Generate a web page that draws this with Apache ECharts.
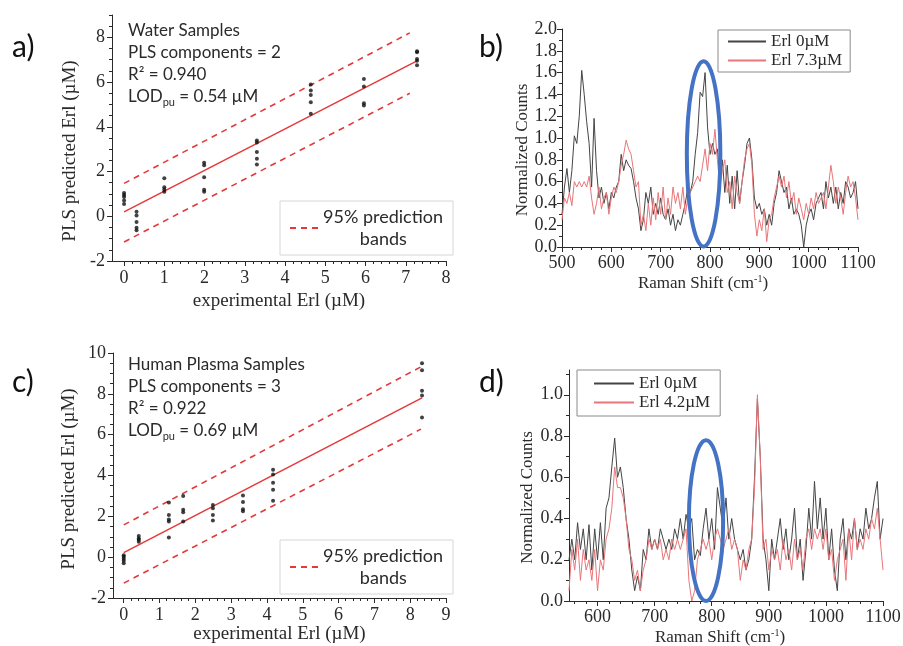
<!DOCTYPE html>
<html><head><meta charset="utf-8">
<script src="https://cdn.jsdelivr.net/npm/echarts@6/dist/echarts.min.js"></script>
<style>html,body{margin:0;padding:0;background:#fff}#c{width:903px;height:646px}</style>
</head><body><div id="c"></div>
<script>
// ---------------- Panel a: water samples ----------------
const waterExperimental = [0,0,0,0,0, 0.31,0.31,0.31,0.31,0.31, 1,1,1,1, 1.99,1.99,1.99,1.99,1.99, 3.3,3.3,3.3,3.3,3.3, 4.64,4.64,4.64,4.64,4.64, 5.96,5.96,5.96,5.96, 7.28,7.28,7.28,7.28,7.28];
const waterPredicted    = [1.04,0.95,0.86,0.7,0.55, 0.2,0.04,-0.26,-0.51,-0.63, 1.7,1.3,1.2,1.1, 2.39,2.28,1.75,1.19,1.1, 3.39,3.3,2.87,2.57,2.32, 5.89,5.62,5.42,5.1,4.58, 6.14,5.8,5.05,4.95, 7.38,7.33,7.03,6.95,6.75];
const waterFitX = [0, 7.28];
const waterFitY = [0.2, 6.95];
const waterBandX = [0, 7.1];
const waterUpperY = [1.47, 8.2];
const waterLowerY = [-1.15, 5.5];
const waterNotes = ['Water Samples', 'PLS components = 2', 'R² = 0.940', 'LOD|pu| = 0.54 µM'];
const aXTicks = [0,1,2,3,4,5,6,7,8];
const aYTicks = [-2,0,2,4,6,8];

// ---------------- Panel c: human plasma samples ----------------
const plasmaExperimental = [0,0,0,0,0, 0.42,0.42,0.42,0.42, 1.26,1.26,1.26,1.26,1.26, 1.66,1.66,1.66,1.66, 2.49,2.49,2.49,2.49, 3.33,3.33,3.33,3.33, 4.17,4.17,4.17,4.17,4.17, 8.33,8.33,8.33,8.33,8.33];
const plasmaPredicted    = [0.1,0.02,-0.08,-0.18,-0.3, 1.04,0.92,0.85,0.75, 2.68,2.07,1.85,1.75,0.96, 3.0,2.32,2.2,1.75, 2.56,2.4,2.07,1.8, 3.02,2.7,2.35,2.25, 4.28,4.05,3.65,3.3,2.76, 9.5,9.15,8.15,7.92,6.84];
const plasmaFitX = [0, 8.33];
const plasmaFitY = [0.22, 7.8];
const plasmaBandX = [0, 8.3];
const plasmaUpperY = [1.58, 9.32];
const plasmaLowerY = [-1.27, 6.27];
const plasmaNotes = ['Human Plasma Samples', 'PLS components = 3', 'R² = 0.922', 'LOD|pu| = 0.69 µM'];
const cXTicks = [0,1,2,3,4,5,6,7,8,9];
const cYTicks = [-2,0,2,4,6,8,10];

// ---------------- Panel b: Raman spectra (water) ----------------
const bShift = [500,505,510,515,520,525,530,535,540,545,550,555,560,565,570,575,580,585,590,595,
 600,605,610,615,620,625,630,635,640,645,650,655,660,665,670,675,680,685,690,695,
 700,705,710,715,720,725,730,735,740,745,750,755,760,765,770,775,780,785,790,795,
 800,805,810,815,820,825,830,835,840,845,850,855,860,865,870,875,880,885,890,895,
 900,905,910,915,920,925,930,935,940,945,950,955,960,965,970,975,980,985,990,995,
 1000,1005,1010,1015,1020,1025,1030,1035,1040,1045,1050,1055,1060,1065,1070,1075,1080,1085,1090,1095,
 1100];
const bErl0 = [0.30,0.55,0.72,0.50,0.70,1.02,0.95,1.20,1.62,1.40,1.15,0.95,0.55,1.18,0.70,0.45,0.55,0.40,0.50,0.35,
 0.50,0.45,0.55,0.60,0.85,0.70,0.80,0.75,0.72,0.60,0.45,0.35,0.15,0.25,0.50,0.40,0.55,0.30,0.40,0.30,
 0.45,0.30,0.25,0.35,0.20,0.30,0.15,0.25,0.20,0.30,0.40,0.55,0.50,0.60,0.85,1.05,1.42,1.38,1.60,1.10,
 0.85,0.95,0.85,0.90,0.60,0.80,0.50,0.75,0.40,0.65,0.35,0.70,0.40,0.60,0.75,0.95,1.00,0.80,0.45,0.35,
 0.40,0.30,0.35,0.20,0.30,0.20,0.40,0.50,0.70,0.60,0.50,0.55,0.35,0.45,0.30,0.35,0.30,0.20,0.00,0.20,
 0.30,0.35,0.25,0.40,0.45,0.50,0.35,0.60,0.45,0.55,0.40,0.55,0.35,0.50,0.40,0.60,0.55,0.45,0.50,0.60,
 0.35];
const bErl73 = [0.25,0.45,0.40,0.50,0.38,0.60,0.55,0.60,0.55,0.60,0.55,0.65,0.45,0.30,0.40,0.55,0.35,0.45,0.50,0.30,
 0.45,0.55,0.50,0.60,0.75,0.85,0.98,0.90,0.85,0.70,0.55,0.60,0.20,0.30,0.15,0.40,0.20,0.45,0.25,0.50,
 0.30,0.55,0.25,0.45,0.30,0.55,0.40,0.50,0.35,0.55,0.30,0.45,0.50,0.55,0.60,0.65,0.60,0.75,0.90,0.70,
 0.95,0.85,1.08,0.80,0.55,0.70,0.80,0.50,0.60,0.35,0.65,0.50,0.40,0.60,0.80,0.90,0.95,0.75,0.30,0.10,
 0.25,0.15,0.35,0.05,0.25,0.30,0.45,0.55,0.65,0.55,0.65,0.45,0.60,0.40,0.50,0.30,0.45,0.35,0.25,0.40,
 0.30,0.45,0.35,0.50,0.40,0.45,0.50,0.35,0.55,0.75,0.60,0.40,0.55,0.45,0.30,0.50,0.65,0.55,0.60,0.45,
 0.25];
const bHighlight = [787, 0.855, 34, 0.85]; // centre x, centre y, half-width, half-height
const bXTicks = [500,600,700,800,900,1000,1100];
const bYTicks = [0,0.2,0.4,0.6,0.8,1.0,1.2,1.4,1.6,1.8,2.0];

// ---------------- Panel d: Raman spectra (plasma) ----------------
const dShift = [550,555,560,565,570,575,580,585,590,595,
 600,605,610,615,620,625,630,635,640,645,650,655,660,665,670,675,680,685,690,695,
 700,705,710,715,720,725,730,735,740,745,750,755,760,765,770,775,780,785,790,795,
 800,805,810,815,820,825,830,835,840,845,850,855,860,865,870,875,880,885,890,895,
 900,905,910,915,920,925,930,935,940,945,950,955,960,965,970,975,980,985,990,995,
 1000,1005,1010,1015,1020,1025,1030,1035,1040,1045,1050,1055,1060,1065,1070,1075,1080,1085,1090,1095,
 1100];
const dErl0 = [0.20,0.30,0.20,0.38,0.25,0.35,0.20,0.37,0.15,0.35,
 0.20,0.38,0.20,0.45,0.50,0.65,0.79,0.60,0.65,0.55,0.40,0.30,0.15,0.05,0.12,0.05,0.25,0.20,0.35,0.25,
 0.30,0.25,0.35,0.30,0.25,0.30,0.25,0.35,0.30,0.40,0.30,0.42,0.35,0.40,0.20,0.25,0.22,0.35,0.45,0.30,
 0.40,0.25,0.55,0.45,0.35,0.50,0.30,0.40,0.30,0.25,0.20,0.25,0.15,0.20,0.30,0.60,0.98,0.70,0.30,0.20,
 0.05,0.30,0.20,0.30,0.40,0.25,0.35,0.20,0.30,0.45,0.20,0.30,0.10,0.25,0.45,0.30,0.58,0.35,0.50,0.30,
 0.45,0.20,0.35,0.15,0.05,0.30,0.40,0.20,0.35,0.30,0.40,0.25,0.35,0.30,0.45,0.35,0.40,0.50,0.58,0.30,
 0.40];
const dErl42 = [0.05,0.25,0.15,0.30,0.10,0.25,0.15,0.20,0.10,0.25,
 0.05,0.20,0.15,0.30,0.35,0.45,0.65,0.55,0.55,0.50,0.40,0.25,0.20,0.10,0.15,0.05,0.15,0.20,0.30,0.25,
 0.30,0.25,0.30,0.20,0.25,0.20,0.30,0.25,0.30,0.25,0.30,0.35,0.10,0.00,0.05,0.20,0.25,0.30,0.25,0.30,
 0.20,0.30,0.35,0.30,0.25,0.30,0.35,0.25,0.30,0.25,0.10,0.20,0.15,0.25,0.30,0.55,1.00,0.70,0.25,0.30,
 0.15,0.25,0.20,0.25,0.15,0.30,0.20,0.25,0.15,0.30,0.20,0.25,0.15,0.30,0.35,0.25,0.35,0.30,0.35,0.25,
 0.35,0.20,0.25,0.10,0.20,0.25,0.30,0.10,0.35,0.20,0.40,0.25,0.30,0.25,0.35,0.30,0.40,0.35,0.45,0.30,
 0.15];
const dHighlight = [790, 0.39, 30, 0.39];
const dXTicks = [600,700,800,900,1000,1100];
const dYTicks = [0,0.2,0.4,0.6,0.8,1.0];

// ---------------- styling helpers ----------------
const SERIF = '"Liberation Serif", "Times New Roman", serif';
const SANS = 'Lato, "Open Sans", sans-serif';
const INK = '#2a2a2a';
const RED = '#e4393b';
const BLUE = '#4472c4';

function minorVals(min, max, step, major) {
  const out = [];
  const n = Math.round((max - min) / step);
  for (let i = 0; i <= n; i++) {
    const v = +(min + i * step).toFixed(6);
    const r = v / major;
    if (Math.abs(r - Math.round(r)) < 1e-6) continue;
    out.push(v);
  }
  return out;
}
const zip = (xs, ys) => xs.map((x, i) => [x, ys[i]]);

function mainAxis(grid, min, max, ticks, fmt, labelSize, labelMargin, name, nameSize, nameGap, namePad, rich) {
  const ax = {
    type: 'value', gridIndex: grid, min: min, max: max,
    splitLine: { show: false },
    axisLine: { show: true, onZero: false, lineStyle: { color: INK, width: 1 } },
    axisTick: { show: true, inside: false, length: 5, customValues: ticks, lineStyle: { color: INK, width: 1 } },
    axisLabel: { show: true, customValues: ticks, formatter: fmt, fontFamily: SERIF, fontSize: labelSize, color: INK, margin: labelMargin },
    name: name, nameLocation: 'middle', nameGap: nameGap,
    nameTextStyle: { fontFamily: SERIF, fontSize: nameSize, color: INK, padding: namePad }
  };
  if (rich) ax.nameTextStyle.rich = rich;
  return ax;
}
function minorAxis(grid, min, max, vals) {
  return {
    type: 'value', gridIndex: grid, min: min, max: max,
    splitLine: { show: false }, axisLine: { show: false, onZero: false },
    axisTick: { show: true, inside: false, length: 3, customValues: vals, lineStyle: { color: INK, width: 1 } },
    axisLabel: { show: false }
  };
}
const intFmt = v => String(v);
const oneDec = v => Number(v).toFixed(1);
const ramanRich = {
  t: { fontFamily: SERIF, fontSize: 17, color: INK, lineHeight: 20 },
  s: { fontFamily: SERIF, fontSize: 10, color: INK, lineHeight: 10, verticalAlign: 'top' }
};
const ramanName = '{t|Raman Shift (cm}{s|-1}{t|)}';

const grids = [
  { left: 112, top: 15, width: 334, height: 246 },
  { left: 562, top: 29, width: 296, height: 218 },
  { left: 113, top: 353, width: 333, height: 245 },
  { left: 569, top: 370, width: 314, height: 231 }
];
const allGrids = grids.concat(grids).map(g => Object.assign({ containLabel: false, outerBoundsMode: 'none' }, g));

const xAxes = [
  mainAxis(0, -0.3, 8, aXTicks, intFmt, 18, 8, 'experimental Erl (µM)', 19, 31, [0,0,0,0]),
  mainAxis(1, 500, 1100, bXTicks, intFmt, 18, 7, ramanName, 17, 27, [0,14,0,0], ramanRich),
  mainAxis(2, -0.3, 9, cXTicks, intFmt, 18, 8, 'experimental Erl (µM)', 19, 27, [0,0,0,0]),
  mainAxis(3, 550, 1100, dXTicks, intFmt, 18, 7, ramanName, 17, 27, [0,12,0,0], ramanRich),
  minorAxis(4, -0.3, 8, minorVals(0, 8, 0.2, 1)),
  minorAxis(5, 500, 1100, minorVals(500, 1100, 20, 100)),
  minorAxis(6, -0.3, 9, minorVals(0, 9, 0.2, 1)),
  minorAxis(7, 550, 1100, minorVals(560, 1100, 20, 100))
];
const yAxes = [
  mainAxis(0, -2, 9, aYTicks, intFmt, 18, 7, 'PLS predicted Erl (µM)', 19, 32, [0,26,0,0]),
  mainAxis(1, 0, 2, bYTicks, oneDec, 18, 5, 'Normalized Counts', 17, 30, [0,24,0,0]),
  mainAxis(2, -2, 10, cYTicks, intFmt, 18, 7, 'PLS predicted Erl (µM)', 19, 34, [0,7,0,0]),
  mainAxis(3, 0, 1.12, dYTicks, oneDec, 18, 6, 'Normalized Counts', 17, 33, [0,24,0,0]),
  minorAxis(4, -2, 9, minorVals(-2, 9, 0.5, 2)),
  minorAxis(5, 0, 2, minorVals(0, 2, 0.1, 0.2)),
  minorAxis(6, -2, 10, minorVals(-2, 10, 0.5, 2)),
  minorAxis(7, 0, 1.12, minorVals(0, 1.1, 0.1, 0.2))
];

function ellipseSeries(idx, item) {
  return {
    type: 'custom', name: 'highlight', xAxisIndex: idx, yAxisIndex: idx, clip: false, silent: true, z: 5,
    data: [item],
    renderItem: function (params, api) {
      const c = api.coord([api.value(0), api.value(1)]);
      const s = api.size([api.value(2), api.value(3)]);
      return { type: 'ellipse', shape: { cx: c[0], cy: c[1], rx: s[0], ry: s[1] },
               style: { fill: 'none', stroke: BLUE, lineWidth: 4 } };
    }
  };
}
const lineBase = { type: 'line', symbol: 'none', showSymbol: false, animation: false, silent: true };
const BAND = '95% prediction bands';

const series = [
  // a
  { type: 'scatter', name: 'water', xAxisIndex: 0, yAxisIndex: 0, symbol: 'circle', symbolSize: 4,
    itemStyle: { color: '#111' }, data: zip(waterExperimental, waterPredicted), z: 4 },
  Object.assign({}, lineBase, { name: 'fit a', xAxisIndex: 0, yAxisIndex: 0, data: zip(waterFitX, waterFitY), lineStyle: { color: RED, width: 1.5 } }),
  Object.assign({}, lineBase, { name: BAND, xAxisIndex: 0, yAxisIndex: 0, data: zip(waterBandX, waterUpperY), lineStyle: { color: RED, width: 1.6, type: [6, 5] }, itemStyle: { color: RED } }),
  Object.assign({}, lineBase, { name: BAND, xAxisIndex: 0, yAxisIndex: 0, data: zip(waterBandX, waterLowerY), lineStyle: { color: RED, width: 1.6, type: [6, 5] }, itemStyle: { color: RED } }),
  // c
  { type: 'scatter', name: 'plasma', xAxisIndex: 2, yAxisIndex: 2, symbol: 'circle', symbolSize: 4,
    itemStyle: { color: '#111' }, data: zip(plasmaExperimental, plasmaPredicted), z: 4 },
  Object.assign({}, lineBase, { name: 'fit c', xAxisIndex: 2, yAxisIndex: 2, data: zip(plasmaFitX, plasmaFitY), lineStyle: { color: RED, width: 1.5 } }),
  Object.assign({}, lineBase, { name: BAND, xAxisIndex: 2, yAxisIndex: 2, data: zip(plasmaBandX, plasmaUpperY), lineStyle: { color: RED, width: 1.6, type: [6, 5] }, itemStyle: { color: RED } }),
  Object.assign({}, lineBase, { name: BAND, xAxisIndex: 2, yAxisIndex: 2, data: zip(plasmaBandX, plasmaLowerY), lineStyle: { color: RED, width: 1.6, type: [6, 5] }, itemStyle: { color: RED } }),
  // b
  Object.assign({}, lineBase, { name: 'Erl 0µM', xAxisIndex: 1, yAxisIndex: 1, data: zip(bShift, bErl0), lineStyle: { color: '#444', width: 1 }, itemStyle: { color: '#444' } }),
  Object.assign({}, lineBase, { name: 'Erl 7.3µM', xAxisIndex: 1, yAxisIndex: 1, data: zip(bShift, bErl73), lineStyle: { color: '#e8767a', width: 1 }, itemStyle: { color: '#e8767a' } }),
  ellipseSeries(1, bHighlight),
  // d
  Object.assign({}, lineBase, { name: 'Erl 0µM', xAxisIndex: 3, yAxisIndex: 3, data: zip(dShift, dErl0), lineStyle: { color: '#444', width: 1 }, itemStyle: { color: '#444' } }),
  Object.assign({}, lineBase, { name: 'Erl 4.2µM', xAxisIndex: 3, yAxisIndex: 3, data: zip(dShift, dErl42), lineStyle: { color: '#e8767a', width: 1 }, itemStyle: { color: '#e8767a' } }),
  ellipseSeries(3, dHighlight)
];

const hiddenMarker = { color: 'rgba(0,0,0,0)', borderColor: 'rgba(0,0,0,0)', borderWidth: 0, opacity: 0 };
const bandLegend = (top) => ({
  data: [BAND], orient: 'vertical', left: 280, top: top,
  padding: [5, 10, 5, 9], itemWidth: 28, itemHeight: 10, itemGap: 4,
  borderColor: '#d6d6d6', borderWidth: 1, backgroundColor: '#fff', selectedMode: false,
  itemStyle: hiddenMarker,
  formatter: () => '95% prediction\n        bands',
  textStyle: { fontFamily: SANS, fontSize: 18, color: INK, lineHeight: 22 }
});
const specLegend = (names, left, top, padding, itemWidth) => ({
  data: names, orient: 'vertical', left: left, top: top, padding: padding,
  itemWidth: itemWidth, itemHeight: 12, itemGap: 2, selectedMode: false,
  itemStyle: hiddenMarker,
  borderColor: '#8a8a8a', borderWidth: 1, backgroundColor: '#fff',
  textStyle: { fontFamily: SERIF, fontSize: 17, color: INK }
});

function noteText(lines) {
  return lines.map(l => {
    if (l.indexOf('|') >= 0) {
      const p = l.split('|');
      return '{n|' + p[0] + '}{s|' + p[1] + '}{n|' + p[2] + '}';
    }
    return '{n|' + l + '}';
  }).join('\n');
}
const noteRich = {
  n: { fontFamily: SANS, fontSize: 17, lineHeight: 22, fill: INK },
  s: { fontFamily: SANS, fontSize: 11, lineHeight: 12, verticalAlign: 'bottom', fill: INK }
};
const panelFont = '30px Lato, "Open Sans", sans-serif';

const option = {
  animation: false,
  backgroundColor: '#fff',
  grid: allGrids,
  xAxis: xAxes,
  yAxis: yAxes,
  legend: [
    bandLegend(201),
    specLegend(['Erl 0µM', 'Erl 7.3µM'], 718, 30, [3, 8, 3, 9], 38),
    bandLegend(540),
    specLegend(['Erl 0µM', 'Erl 4.2µM'], 577, 370, [5, 10, 5, 16], 40)
  ],
  graphic: [
    { type: 'text', left: 12, top: 32, style: { text: 'a)', font: panelFont, fill: '#111' } },
    { type: 'text', left: 479, top: 32, style: { text: 'b)', font: panelFont, fill: '#111' } },
    { type: 'text', left: 12, top: 367, style: { text: 'c)', font: panelFont, fill: '#111' } },
    { type: 'text', left: 479, top: 367, style: { text: 'd)', font: panelFont, fill: '#111' } },
    { type: 'text', left: 128, top: 22, style: { text: noteText(waterNotes), rich: noteRich, fill: INK } },
    { type: 'text', left: 128, top: 356, style: { text: noteText(plasmaNotes), rich: noteRich, fill: INK } }
  ],
  series: series
};
const chart = echarts.init(document.getElementById('c'), null, { renderer: 'canvas' });
chart.setOption(option);
</script></body></html>
